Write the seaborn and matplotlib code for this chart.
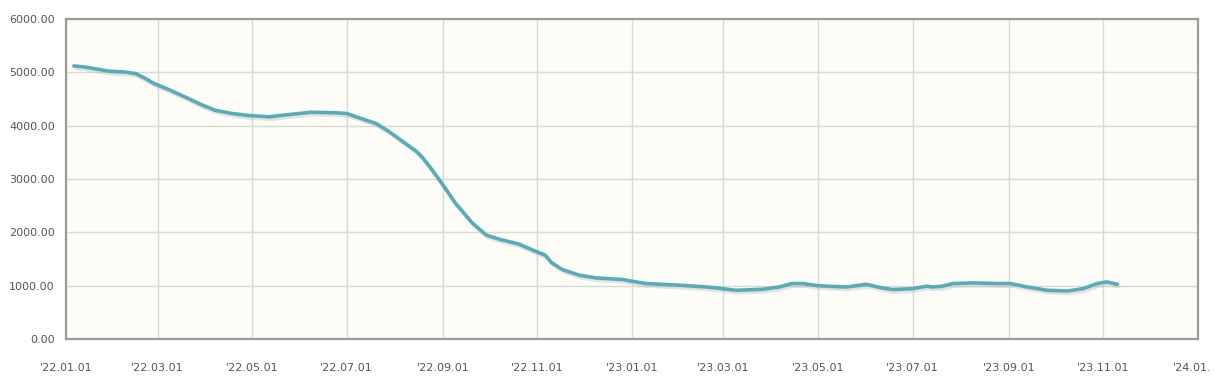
import matplotlib
matplotlib.use("Agg")
import matplotlib.pyplot as plt
import matplotlib.patheffects as pe
import matplotlib.transforms as mtransforms
import seaborn as sns
import pandas as pd
import numpy as np

dates = [
    "2022-01-06", "2022-01-13", "2022-01-22", "2022-01-28", "2022-02-08", "2022-02-15",
    "2022-02-21", "2022-02-27", "2022-03-08", "2022-03-19", "2022-03-29", "2022-04-07",
    "2022-04-18", "2022-04-29", "2022-05-12", "2022-05-25", "2022-06-08", "2022-06-24",
    "2022-07-01", "2022-07-09", "2022-07-20", "2022-07-28", "2022-08-06", "2022-08-15",
    "2022-08-19", "2022-08-25", "2022-09-01", "2022-09-09", "2022-09-20", "2022-09-29",
    "2022-10-07", "2022-10-20", "2022-10-29", "2022-11-06", "2022-11-10", "2022-11-17",
    "2022-11-28", "2022-12-09", "2022-12-26", "2023-01-01", "2023-01-10", "2023-01-23",
    "2023-02-01", "2023-02-18", "2023-02-28", "2023-03-09", "2023-03-26", "2023-04-06",
    "2023-04-14", "2023-04-21", "2023-04-30", "2023-05-08", "2023-05-19", "2023-05-28",
    "2023-06-01", "2023-06-10", "2023-06-18", "2023-07-01", "2023-07-10", "2023-07-14",
    "2023-07-20", "2023-07-27", "2023-08-09", "2023-08-24", "2023-09-02", "2023-09-13",
    "2023-09-26", "2023-10-09", "2023-10-19", "2023-10-28", "2023-11-03", "2023-11-10",
]
values = [
    5120, 5100, 5056, 5024, 5006, 4975,
    4887, 4787, 4680, 4535, 4397, 4290,
    4228, 4190, 4166, 4209, 4252, 4241,
    4228, 4147, 4040, 3895, 3706, 3518,
    3399, 3173, 2891, 2552, 2175, 1949,
    1874, 1780, 1667, 1572, 1435, 1303,
    1196, 1145, 1115, 1083, 1040, 1021,
    1008, 975, 945, 913, 932, 975,
    1040, 1040, 1002, 989, 975, 1008,
    1026, 964, 927, 945, 989, 975,
    989, 1040, 1051, 1040, 1040, 975,
    913, 900, 945, 1040, 1070, 1026,
]

tick_dates = ["2022-01-01", "2022-03-01", "2022-05-01", "2022-07-01", "2022-09-01",
              "2022-11-01", "2023-01-01", "2023-03-01", "2023-05-01", "2023-07-01",
              "2023-09-01", "2023-11-01", "2024-01-01"]
tick_labels = ["'22.01.01", "'22.03.01", "'22.05.01", "'22.07.01", "'22.09.01",
               "'22.11.01", "'23.01.01", "'23.03.01", "'23.05.01", "'23.07.01",
               "'23.09.01", "'23.11.01", "'24.01."]
y_ticks = [0, 1000, 2000, 3000, 4000, 5000, 6000]

df = pd.DataFrame({"date": pd.to_datetime(dates), "value": values})

sns.set_style("white")
plt.rcParams["font.family"] = ["DejaVu Sans"]

fig = plt.figure(figsize=(12.14, 3.91), dpi=100)
ax = fig.add_axes([0.0544, 0.133, 0.9324, 0.8184])
ax.set_facecolor("#fdfcf6")

sns.lineplot(data=df, x="date", y="value", ax=ax, color="#58abb9", linewidth=2.6,
             path_effects=[pe.SimpleLineShadow(offset=(1.2, -1.8), shadow_color="#aaaaaa", alpha=0.3),
                           pe.Normal()], zorder=5)

ax.set_xlim(pd.Timestamp("2022-01-01"), pd.Timestamp("2024-01-01"))
ax.set_ylim(0, 6000)
ax.set_xticks(pd.to_datetime(tick_dates))
ax.set_xticklabels(tick_labels)
ax.set_yticks(y_ticks)
ax.set_yticklabels([f"{v:.2f}" for v in y_ticks])
ax.set_xlabel("")
ax.set_ylabel("")

ax.grid(True, color="#d9d9d6", linewidth=1.0)
ax.set_axisbelow(True)
for s in ax.spines.values():
    s.set_visible(True)
    s.set_color("#9b9b9b")
    s.set_linewidth(1.6)

ax.tick_params(axis="both", which="both", length=5, width=1, color="#9b9b9b",
               labelcolor="#555555", labelsize=8, direction="out")
ax.tick_params(axis="x", pad=12)
ax.tick_params(axis="y", pad=3)

last = ax.get_xticklabels()[-1]
last.set_transform(last.get_transform() + mtransforms.ScaledTranslation(-6 / 100, 0, fig.dpi_scale_trans))

fig.savefig("out.png", dpi=100, facecolor="white")
